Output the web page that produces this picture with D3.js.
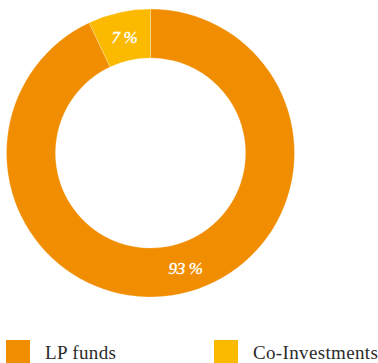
<!DOCTYPE html>
<html><head><meta charset="utf-8">
<script src="https://cdn.jsdelivr.net/npm/d3@7"></script>
<style>html,body{margin:0;padding:0;background:#fff;}svg{display:block;}</style>
</head><body>
<svg id="c" width="378" height="363"></svg>
<script>
const categories = ["LP funds", "Co-Investments"];
const values = [93, 7];
const labels = ["93 %", "7 %"];
const colors = ["#F18D00", "#FBBA00"];

const svg = d3.select("#c");
const cx = 150.5, cy = 153, outerR = 144, innerR = 95;
const g = svg.append("g").attr("transform", `translate(${cx},${cy})`);
const data = categories.map((c, i) => ({cat: c, value: values[i], label: labels[i], color: colors[i]}));
const pie = d3.pie().value(d => d.value).sort(null);
const arc = d3.arc().innerRadius(innerR).outerRadius(outerR);
const arcs = pie(data);
g.selectAll("path").data(arcs).join("path")
  .attr("d", arc).attr("fill", d => d.data.color)
  .attr("stroke", "#fff").attr("stroke-width", 0.4).attr("stroke-opacity", 0.6);
g.selectAll("text").data(arcs).join("text")
  .attr("transform", d => { const [x, y] = arc.centroid(d); return `translate(${x + (d.index === 0 ? 9 : 0)},${y + (d.index === 0 ? -2 : 1)})`; })
  .attr("text-anchor", "middle").attr("dy", "0.35em")
  .attr("fill", "#fff").attr("stroke", "#fff").attr("stroke-width", 0.35)
  .attr("font-family", "'Liberation Serif', serif")
  .attr("font-style", "italic").attr("font-size", 17).attr("letter-spacing", -0.3)
  .text(d => d.data.label);

const leg = svg.append("g");
const lx = d3.scalePoint().domain(categories).range([6, 214]);
const items = leg.selectAll("g").data(data).join("g")
  .attr("transform", d => `translate(${lx(d.cat)},340)`);
items.append("rect").attr("width", 24).attr("height", 23).attr("fill", d => d.color);
items.append("text").attr("x", 39).attr("y", 19)
  .attr("font-family", "'Liberation Serif', serif").attr("font-size", 19)
  .attr("letter-spacing", 0.35)
  .attr("fill", "#2b2b2b").text(d => d.cat);
</script>
</body></html>
